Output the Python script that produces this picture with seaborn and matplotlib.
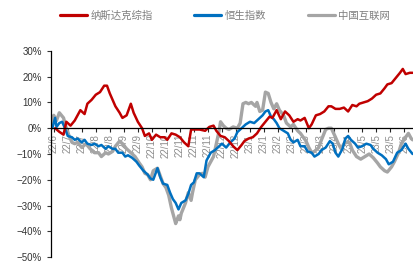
import numpy as np
import pandas as pd
import seaborn as sns
import matplotlib
matplotlib.use('Agg')
import matplotlib.pyplot as plt
from matplotlib.ticker import FuncFormatter

# ======================= data (cumulative return, %) ==========================
# x = trading day index since 2022-06-24
nasdaq_day = [3, 6, 9, 11, 14, 17, 21, 24, 26, 29, 32, 35, 38, 40, 42, 44, 46, 49, 51, 54,
              57, 59, 62, 65, 67, 70, 72, 75, 78, 81, 83, 86, 89, 92, 95, 98, 100, 103, 106, 110,
              113, 116, 118, 121, 124, 127, 130, 133, 136, 138, 141, 144, 147, 150, 153, 156, 158, 161, 164, 167,
              170, 173, 176, 178, 181, 184, 186, 189, 192, 195, 198, 200, 203, 206, 209, 212, 215, 218, 220, 223,
              226, 229, 232, 235, 238, 240, 243, 246, 249, 251, 253, 256, 258]
nasdaq_val = [0, -1.4, -2.5, 2.5, 1, 3, 7, 5.5, 9.5, 11, 13, 14, 16.5, 16.5, 13.5, 11, 8.5, 6, 4, 5,
              9.5, 6, 2.5, 0, -3, -2, -4.5, -2.5, -3.5, -3.5, -4.5, -2, -2.5, -3.5, -5.5, -7, -0.5, -0.5, -0.5, -1,
              0.5, 1, -1, -3, -3.5, -5, -7, -8.5, -6.5, -5, -4, -3.5, -2, 0.5, 2.5, 4.5, 4, 7, 3.5, 6.5,
              5, 2.5, 3.5, 3, 4, 0, 1.5, 5, 5.5, 6.5, 8.5, 8.5, 7.5, 7.5, 8, 6.5, 9, 8.5, 9.5, 10,
              10.5, 11.5, 13, 13.5, 15.5, 17, 17.5, 19.5, 21.5, 23, 21, 21.5, 21.5]

hsi_day = [1, 3, 4, 6, 8, 10, 12, 15, 17, 19, 22, 24, 26, 29, 31, 34, 36, 39, 41, 44,
           46, 48, 51, 53, 55, 58, 61, 63, 66, 69, 71, 73, 76, 78, 80, 83, 85, 87, 89, 91,
           93, 96, 98, 100, 102, 104, 106, 109, 111, 114, 117, 119, 122, 125, 128, 131, 133, 136, 139, 142,
           145, 148, 151, 153, 155, 157, 159, 161, 163, 166, 169, 171, 173, 176, 178, 181, 183, 186, 188, 191,
           193, 196, 199, 201, 203, 205, 208, 210, 212, 214, 217, 219, 222, 225, 228, 230, 233, 236, 239, 241,
           244, 247, 250, 253, 255, 258]
hsi_val = [0, 4, 0.5, 2, 2.5, 0, -3, -3.5, -4.5, -4, -5.5, -4.5, -6, -6.5, -6, -7, -6.5, -8, -7, -8,
           -8, -9.5, -9.5, -11, -10.5, -11.5, -13, -14.5, -16.5, -18, -19.5, -20, -15.5, -19, -21.5, -22, -25, -27.5, -29, -31.5,
           -29, -28, -25.5, -22, -21, -17.5, -17.5, -19, -12.5, -9.5, -8.5, -7.5, -6, -7.5, -5.5, -4, -1.5, 0, 1.5, 2.5,
           2, 3.5, 5, 6.5, 7, 4.5, 3.5, 2, 0, -1, -2, -4.5, -5.5, -4.5, -7, -7, -9, -9.5, -11, -10,
           -8.5, -7.5, -5, -6, -9.5, -11, -8, -4, -3, -4.5, -6, -7.5, -7, -6, -6.5, -8, -9.5, -10.5, -12, -14,
           -13, -9.5, -8.5, -6, -8, -10]

china_day = [1, 2, 4, 6, 9, 11, 13, 15, 17, 19, 22, 25, 28, 31, 34, 36, 39, 41, 44, 46,
             49, 51, 54, 57, 60, 63, 65, 67, 69, 71, 73, 76, 78, 80, 82, 84, 86, 88, 89, 91,
             92, 93, 96, 98, 100, 101, 103, 106, 108, 110, 112, 114, 116, 118, 120, 121, 123, 125, 127, 130,
             133, 135, 137, 139, 141, 143, 146, 147, 149, 151, 153, 155, 157, 159, 161, 163, 166, 168, 171, 173,
             176, 178, 180, 182, 184, 186, 188, 191, 193, 196, 198, 200, 203, 205, 207, 209, 211, 213, 215, 218,
             221, 224, 227, 230, 233, 235, 238, 240, 243, 245, 248, 250, 253, 255, 257, 258]
china_val = [2, 5, 3, 6, 4, 0, -3, -5.5, -6, -5.5, -7.5, -6, -8, -9.5, -9.5, -11, -9.5, -10, -9, -7,
             -5, -6, -8, -9.5, -11, -13.5, -15, -17.5, -18, -20, -16.5, -15.5, -18.5, -21.5, -23, -26, -31, -35, -37, -34,
             -35.5, -33, -29, -25, -28, -25, -20, -18, -17.5, -19, -15, -13, -11, -6, -1, 2.5, 1, 0, -0.5, 0.5,
             0, 2, 9.5, 10, 9.5, 10, 8.5, 10, 6.5, 7, 14, 13.5, 10, 7.5, 9.5, 7, 5, 2, 0.5, 1.5,
             -1, -2, -3.5, -5, -7.5, -9.5, -9, -7.5, -4.5, -0.5, 0, 0, -3.5, -6, -8, -6, -5.5, -5.5, -8.5, -11,
             -12, -11, -10, -11.5, -13.5, -15, -16.5, -17, -15, -13, -9.5, -6, -3.5, -2, -4, -4.5]

legend_names = ['纳斯达克综指', '恒生指数', '中国互联网']
line_colors = ['#C00000', '#0070C0', '#A5A5A5']
trade_dates = pd.bdate_range('2022-06-24', periods=260)
tick_days = list(range(2, 259, 10))
# ==============================================================================

df = pd.concat([
    pd.DataFrame({'day': nasdaq_day, 'ret': nasdaq_val, 'name': legend_names[0]}),
    pd.DataFrame({'day': hsi_day, 'ret': hsi_val, 'name': legend_names[1]}),
    pd.DataFrame({'day': china_day, 'ret': china_val, 'name': legend_names[2]}),
])

sns.set_style('white')
plt.rcParams['font.family'] = ['Liberation Sans', 'Noto Sans CJK SC', 'DejaVu Sans']

fig = plt.figure(figsize=(4.14, 2.61), dpi=100)
ax = fig.add_axes([0.123, 0.015, 0.877, 0.79])

# grey first so blue and red sit on top
for name, col, lw in [(legend_names[2], line_colors[2], 2.4),
                      (legend_names[1], line_colors[1], 1.8),
                      (legend_names[0], line_colors[0], 1.8)]:
    sns.lineplot(data=df[df['name'] == name], x='day', y='ret', color=col, lw=lw,
                 ax=ax, label=name, legend=False)

ax.set_xlim(0, 259)
ax.set_ylim(-50, 30)
ax.set_yticks(range(-50, 31, 10))
ax.yaxis.set_major_formatter(FuncFormatter(lambda v, p: ('−' if v < 0 else '') + '%d%%' % abs(v)))
ax.set_xticks(tick_days)
ax.set_xticklabels(['%d/%d' % (trade_dates[d].year % 100, trade_dates[d].month) for d in tick_days])
ax.tick_params(axis='y', labelsize=7, colors='#333333', length=3, width=0.8, direction='out', left=True)
ax.tick_params(axis='x', length=3, width=0.8, direction='out', bottom=True, pad=1,
               labelrotation=90, labelsize=7, labelcolor='#8c8c8c')
ax.spines['bottom'].set_position(('data', 0))
for s in ['top', 'right']:
    ax.spines[s].set_visible(False)
ax.spines['left'].set_color('black')
ax.spines['bottom'].set_color('black')
ax.spines['left'].set_linewidth(0.9)
ax.spines['bottom'].set_linewidth(0.9)
ax.set_xlabel('')
ax.set_ylabel('')

# legend in original order
handles = {h.get_label(): h for h in ax.get_lines()}
leg = fig.legend([handles[n] for n in legend_names], legend_names, loc='center',
                 bbox_to_anchor=(0.543, 0.94), ncol=3, frameon=False, fontsize=7.5,
                 handlelength=2.6, handletextpad=0.3, columnspacing=4.0)
for t in leg.get_texts():
    t.set_color('#7f7f7f')
    t.set_family(['Noto Sans CJK SC', 'DejaVu Sans'])
for l in leg.get_lines():
    l.set_linewidth(2.3)

plt.savefig('out.png', dpi=100)
